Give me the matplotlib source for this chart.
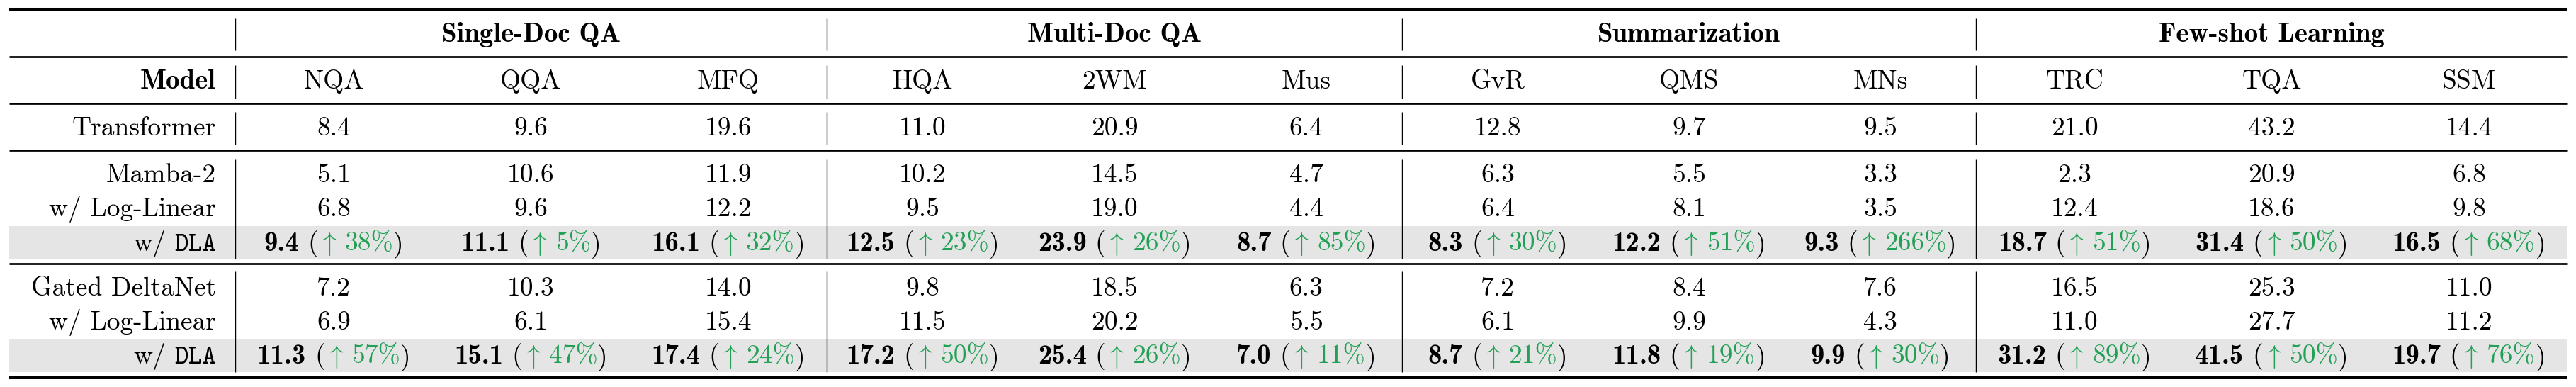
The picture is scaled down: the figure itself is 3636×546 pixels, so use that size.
import matplotlib
matplotlib.use("Agg")
import matplotlib.pyplot as plt
from matplotlib.font_manager import FontProperties

plt.rcParams['mathtext.fontset'] = 'cm'

# ---- table content ----
groups = ["Single-Doc QA", "Multi-Doc QA", "Summarization", "Few-shot Learning"]
tasks = ["NQA", "QQA", "MFQ", "HQA", "2WM", "Mus", "GvR", "QMS", "MNs", "TRC", "TQA", "SSM"]

transformer = [8.4, 9.6, 19.6, 11.0, 20.9, 6.4, 12.8, 9.7, 9.5, 21.0, 43.2, 14.4]

mamba2 = [5.1, 10.6, 11.9, 10.2, 14.5, 4.7, 6.3, 5.5, 3.3, 2.3, 20.9, 6.8]
mamba2_loglinear = [6.8, 9.6, 12.2, 9.5, 19.0, 4.4, 6.4, 8.1, 3.5, 12.4, 18.6, 9.8]
mamba2_dla = [9.4, 11.1, 16.1, 12.5, 23.9, 8.7, 8.3, 12.2, 9.3, 18.7, 31.4, 16.5]
mamba2_dla_gain = [38, 5, 32, 23, 26, 85, 30, 51, 266, 51, 50, 68]

gdn = [7.2, 10.3, 14.0, 9.8, 18.5, 6.3, 7.2, 8.4, 7.6, 16.5, 25.3, 11.0]
gdn_loglinear = [6.9, 6.1, 15.4, 11.5, 20.2, 5.5, 6.1, 9.9, 4.3, 11.0, 27.7, 11.2]
gdn_dla = [11.3, 15.1, 17.4, 17.2, 25.4, 7.0, 8.7, 11.8, 9.9, 31.2, 41.5, 19.7]
gdn_dla_gain = [57, 47, 24, 50, 26, 11, 21, 19, 30, 89, 50, 76]

# ---- page geometry (pixels, y from top) ----
W, H = 3636, 546
x_left, x_right = 13, 3624
label_right = 305
seps = [332, 1167, 1979, 2789, 3624]
rules = [13, 80, 146, 212, 372, 533]
green = "#22a055"
gray = "#e5e5e5"
fs = 27

rm = FontProperties(family="cmr10", size=fs)
bf = FontProperties(family="cmb10", size=fs + 1)
tt = FontProperties(family="cmtt10", size=fs)

fig = plt.figure(figsize=(W / 100, H / 100), dpi=100)
ax = fig.add_axes([0, 0, 1, 1])
ax.set_xlim(0, W)
ax.set_ylim(H, 0)
ax.axis("off")
renderer = fig.canvas.get_renderer()

col_x = []
for g in range(4):
    a, b = seps[g], seps[g + 1]
    for k in range(3):
        col_x.append(a + (b - a) * (k + 0.5) / 3)


def put(parts, x, yc, ha="center"):
    # parts: (text, font, colour) tuples or numbers for blank gaps
    y = yc + 12
    arts, widths = [], []
    for p in parts:
        if isinstance(p, (int, float)):
            arts.append(None)
            widths.append(p)
            continue
        s, fp, c = p
        t = ax.text(0, y, s, fontproperties=fp, color=c, ha="left", va="baseline")
        arts.append(t)
        widths.append(t.get_window_extent(renderer).width)
    total = sum(widths)
    x0 = x - total / 2 if ha == "center" else x - total
    for t, w in zip(arts, widths):
        if t is not None:
            t.set_x(x0)
        x0 += w


# grey highlight behind the DLA rows
for top, bot in [(319, 365), (478, 525)]:
    ax.fill_between([x_left, x_right], top, bot, color=gray, lw=0, zorder=0)

# horizontal rules
for i, y in enumerate(rules):
    lw = 2.9 if i in (0, len(rules) - 1) else 1.95
    ax.hlines(y, x_left, x_right, color="black", lw=lw, capstyle="butt")

# vertical separators, broken around the rules
bar_spans = [(26, 71), (92, 139), (158, 204), (225, 365), (383, 525)]
for xs in seps[:4]:
    for y0, y1 in bar_spans:
        ax.vlines(xs, y0, y1, color="black", lw=1.0)

# header rows
for g, name in enumerate(groups):
    put([(name, bf, "black")], (seps[g] + seps[g + 1]) / 2, 47)
put([("Model", bf, "black")], label_right, 113, ha="right")
for x, name in zip(col_x, tasks):
    put([(name, rm, "black")], x, 113)


def plain_row(label, vals, yc, label_parts=None):
    put(label_parts or [(label, rm, "black")], label_right, yc, ha="right")
    for x, v in zip(col_x, vals):
        put([(f"{v:.1f}", rm, "black")], x, yc)


def dla_row(vals, gains, yc):
    put([("w/", rm, "black"), 12, ("DLA", tt, "black")], label_right, yc, ha="right")
    for x, v, g in zip(col_x, vals, gains):
        put([(f"{v:.1f}", bf, "black"), 12, ("(", rm, "black"),
             (r"$\uparrow$", rm, green), 11, (f"{g}%", rm, green),
             (")", rm, "black")], x, yc)


plain_row("Transformer", transformer, 179)

plain_row("Mamba-2", mamba2, 245)
plain_row("w/ Log-Linear", mamba2_loglinear, 293)
dla_row(mamba2_dla, mamba2_dla_gain, 342)

plain_row("Gated DeltaNet", gdn, 405)
plain_row("w/ Log-Linear", gdn_loglinear, 453)
dla_row(gdn_dla, gdn_dla_gain, 501)

fig.savefig("out.png", dpi=100)
